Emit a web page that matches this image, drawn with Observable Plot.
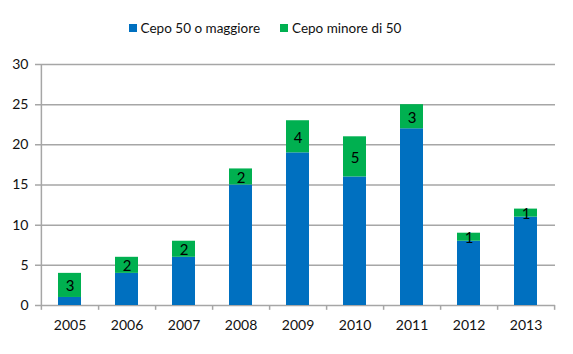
<!DOCTYPE html>
<html><head><meta charset="utf-8">
<script src="https://cdn.jsdelivr.net/npm/d3@7"></script>
<script src="https://cdn.jsdelivr.net/npm/@observablehq/plot@0.6"></script>
<style>
body{margin:0;background:#fff;font-family:Lato,sans-serif;}
#legend{height:45px;display:flex;justify-content:center;align-items:flex-end;gap:20px;font-size:13.5px;color:#111;box-sizing:border-box;padding-bottom:9px;padding-right:43px}
#legend span.sw{display:inline-block;width:8px;height:8px;margin-right:4px;vertical-align:1px}
</style></head>
<body>
<div id="legend"></div>
<div id="chart"></div>
<script>
const years = ["2005","2006","2007","2008","2009","2010","2011","2012","2013"];
const seriesNames = ["Cepo 50 o maggiore","Cepo minore di 50"];
const blueVals = [1,4,6,15,19,16,22,8,11];
const greenVals = [3,2,2,2,4,5,3,1,1];
const yTicks = [0,5,10,15,20,25,30];
const colors = ["#0070c0","#00b050"];

const rows = [];
years.forEach((y,i)=>{
  rows.push({year:y, series:seriesNames[0], value:blueVals[i]});
  rows.push({year:y, series:seriesNames[1], value:greenVals[i]});
});
const labels = years.map((y,i)=>({year:y, mid: blueVals[i] + greenVals[i]/2, text: String(greenVals[i])}));

const leg = document.getElementById("legend");
seriesNames.forEach((s,i)=>{
  const d = document.createElement("div");
  d.innerHTML = `<span class="sw" style="background:${colors[i]}"></span>${s}`;
  leg.appendChild(d);
});

const W = 573, H = 309;
const mL = 40, mR = 18;
const step = (W - mL - mR) / years.length;
const grid = "#a6a6a6";

const chart = Plot.plot({
  width: W, height: H,
  marginTop: 19, marginBottom: 49, marginLeft: mL, marginRight: mR,
  style: {fontFamily: "Lato, sans-serif", fontSize: "14px", color: "#111"},
  x: {domain: years, paddingInner: 0.6, paddingOuter: 0.3, label: null},
  y: {domain: [0, 30], label: null},
  color: {domain: seriesNames, range: colors},
  marks: [
    Plot.ruleY(yTicks, {stroke: grid, strokeWidth: 1.5, insetLeft: -5}),
    Plot.ruleX([years[0]], {y1: -0.6, y2: 30, stroke: grid, strokeWidth: 1.5, dx: -step/2}),
    Plot.ruleX(years, {y1: -0.6, y2: 0, stroke: grid, strokeWidth: 1.5, dx: step/2}),
    Plot.barY(rows, {x: "year", y: "value", fill: "series", order: seriesNames}),
    Plot.text(labels, {x: "year", y: "mid", text: "text", fontSize: 15, fill: "#000", dy: 1}),
    Plot.axisY({ticks: yTicks, tickSize: 0, tickPadding: 12, label: null, fontSize: 14}),
    Plot.axisX({tickSize: 0, tickPadding: 15, label: null, fontSize: 14})
  ]
});
document.getElementById("chart").appendChild(chart);
</script>
</body></html>
